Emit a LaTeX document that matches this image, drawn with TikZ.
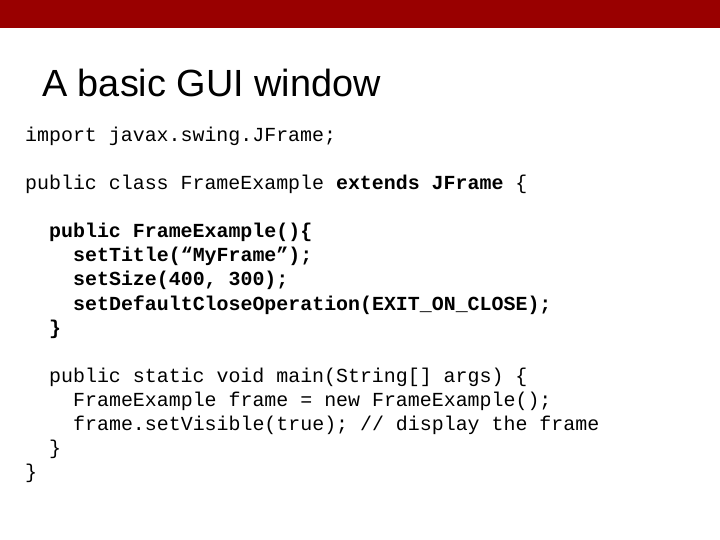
\documentclass[tikz,border=0pt]{standalone}
\usepackage{fontspec}
\setmainfont{Liberation Sans}
\setmonofont{Liberation Mono}
\usepackage{xcolor}
\definecolor{barred}{HTML}{990000}
\tikzset{
    code-line/.style = {anchor=base west, inner sep=0pt, font=\ttfamily\fontsize{20}{24}\selectfont},
    slide-title/.style = {anchor=base west, inner sep=0pt, font=\fontsize{38}{44}\selectfont},
}

\begin{document}
\begin{tikzpicture}[x=1bp, y=-1bp]
\useasboundingbox (0,0) rectangle (720,540);
\fill[barred] (0,0) rectangle (720,28);
\node[slide-title] (title) at (42,97) {A basic GUI window};
\node[code-line] (l1) at (25,142) {import javax.swing.JFrame;};
\node[code-line] (l2) at (25,190) {public class FrameExample \textbf{extends JFrame} \{};
\node[code-line] (l3) at (49,238) {\textbf{public FrameExample()\{}};
\node[code-line] (l4) at (73,262) {\textbf{setTitle(“MyFrame”);}};
\node[code-line] (l5) at (73,286) {\textbf{setSize(400, 300);}};
\node[code-line] (l6) at (73,310) {\textbf{setDefaultCloseOperation(EXIT\_ON\_CLOSE);}};
\node[code-line] (l7) at (49,334) {\textbf{\}}};
\node[code-line] (l8) at (49,382) {public static void main(String[] args) \{};
\node[code-line] (l9) at (73,406) {FrameExample frame = new FrameExample();};
\node[code-line] (l10) at (73,430) {frame.setVisible(true); // display the frame};
\node[code-line] (l11) at (49,454) {\}};
\node[code-line] (l12) at (25,478) {\}};
\end{tikzpicture}
\end{document}
